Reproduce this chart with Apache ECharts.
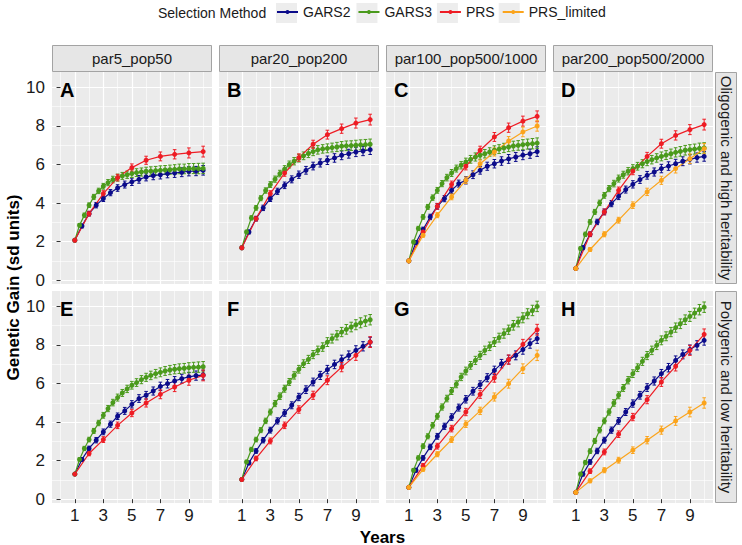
<!DOCTYPE html>
<html><head><meta charset="utf-8">
<script src="https://cdn.jsdelivr.net/npm/echarts@6/dist/echarts.min.js"></script>
<style>html,body{margin:0;padding:0;background:#fff}#c{width:742px;height:545px}</style>
</head><body><div id="c"></div>
<script>
// ---------- data ----------
const methods = ['GARS2', 'GARS3', 'PRS', 'PRS_limited'];
const panelLetters = ['A', 'B', 'C', 'D', 'E', 'F', 'G', 'H'];
const colLabels = ['par5_pop50', 'par20_pop200', 'par100_pop500/1000', 'par200_pop500/2000'];
const rowLabels = ['Oligogenic and high heritability', 'Polygenic and low heritability'];
const xTickLabels = [1, 3, 5, 7, 9];
const xMinorTicks = [0, 2, 4, 6, 8, 10];
const yTickLabels = [0, 2, 4, 6, 8, 10];
const yMinorTicks = [1, 3, 5, 7, 9];

const yearsGARS2 = [1, 1.5, 2, 2.5, 3, 3.5, 4, 4.5, 5, 5.5, 6, 6.5, 7, 7.5, 8, 8.5, 9, 9.5, 10];
const yearsGARS3 = [1, 1.33, 1.67, 2, 2.33, 2.67, 3, 3.33, 3.67, 4, 4.33, 4.67, 5, 5.33, 5.67, 6, 6.33, 6.67, 7, 7.33, 7.67, 8, 8.33, 8.67, 9, 9.33, 9.67, 10];
const yearsPRS = [1, 2, 3, 4, 5, 6, 7, 8, 9, 10];

const errGARS2 = [0, 0.1, 0.12, 0.14, 0.15, 0.16, 0.17, 0.18, 0.19, 0.2, 0.2, 0.21, 0.22, 0.22, 0.23, 0.23, 0.24, 0.24, 0.25];
const errGARS3 = [0, 0.09, 0.11, 0.12, 0.13, 0.14, 0.15, 0.16, 0.17, 0.18, 0.18, 0.19, 0.2, 0.2, 0.21, 0.21, 0.22, 0.22, 0.23, 0.23, 0.24, 0.24, 0.25, 0.25, 0.26, 0.26, 0.27, 0.27];
const errPRS = [0, 0.12, 0.15, 0.17, 0.19, 0.21, 0.23, 0.24, 0.26, 0.28];
const errPRSlim = [0, 0.1, 0.13, 0.15, 0.17, 0.19, 0.21, 0.23, 0.25, 0.27];

const A_GARS2 = [2.07, 2.81, 3.45, 3.89, 4.23, 4.54, 4.78, 4.96, 5.10, 5.23, 5.35, 5.42, 5.47, 5.53, 5.56, 5.60, 5.65, 5.66, 5.70];
const A_GARS3 = [2.07, 2.85, 3.37, 3.89, 4.32, 4.63, 4.87, 5.06, 5.22, 5.32, 5.41, 5.47, 5.53, 5.58, 5.61, 5.65, 5.66, 5.68, 5.70, 5.72, 5.73, 5.75, 5.77, 5.77, 5.79, 5.79, 5.79, 5.80];
const A_PRS = [2.07, 3.45, 4.49, 5.32, 5.84, 6.22, 6.42, 6.53, 6.60, 6.67];

const B_GARS2 = [1.68, 2.50, 3.19, 3.75, 4.23, 4.61, 4.92, 5.23, 5.47, 5.70, 5.92, 6.08, 6.22, 6.34, 6.48, 6.56, 6.65, 6.70, 6.77];
const B_GARS3 = [1.68, 2.50, 3.23, 3.75, 4.25, 4.65, 4.96, 5.24, 5.53, 5.76, 6.00, 6.17, 6.33, 6.45, 6.57, 6.67, 6.76, 6.81, 6.84, 6.88, 6.91, 6.95, 6.97, 6.98, 7.00, 7.02, 7.03, 7.05];
const B_PRS = [1.68, 3.19, 4.49, 5.56, 6.36, 7.05, 7.55, 7.86, 8.15, 8.33];

const C_GARS2 = [1.0, 1.95, 2.63, 3.28, 3.83, 4.23, 4.66, 5.01, 5.18, 5.47, 5.70, 5.91, 6.04, 6.18, 6.29, 6.39, 6.49, 6.56, 6.67];
const C_GARS3 = [1.0, 1.98, 2.68, 3.28, 3.80, 4.28, 4.66, 5.01, 5.32, 5.56, 5.79, 5.96, 6.13, 6.27, 6.39, 6.48, 6.56, 6.65, 6.74, 6.80, 6.86, 6.91, 6.96, 6.99, 7.03, 7.06, 7.08, 7.11];
const C_PRS = [1.0, 2.50, 3.83, 4.97, 5.91, 6.74, 7.43, 7.91, 8.25, 8.50];
const C_PRS_limited = [1.0, 2.33, 3.37, 4.32, 5.18, 6.04, 6.65, 7.22, 7.69, 8.00];

const D_GARS2 = [0.61, 1.68, 2.38, 3.02, 3.54, 3.97, 4.35, 4.70, 4.97, 5.22, 5.44, 5.61, 5.79, 5.92, 6.04, 6.17, 6.27, 6.36, 6.42];
const D_GARS3 = [0.61, 1.64, 2.38, 3.02, 3.54, 4.01, 4.40, 4.75, 5.01, 5.27, 5.47, 5.65, 5.79, 5.91, 6.04, 6.15, 6.25, 6.34, 6.42, 6.49, 6.56, 6.63, 6.68, 6.74, 6.77, 6.80, 6.84, 6.86];
const D_PRS = [0.61, 2.38, 3.54, 4.66, 5.66, 6.42, 7.08, 7.51, 7.81, 8.07];
const D_PRS_limited = [0.61, 1.59, 2.38, 3.11, 3.89, 4.58, 5.18, 5.79, 6.30, 6.82];

const E_GARS2 = [1.30, 2.06, 2.63, 3.06, 3.49, 3.89, 4.30, 4.58, 4.92, 5.22, 5.39, 5.61, 5.85, 5.99, 6.13, 6.25, 6.34, 6.41, 6.44];
const E_GARS3 = [1.30, 2.06, 2.63, 3.09, 3.54, 3.95, 4.35, 4.70, 5.01, 5.27, 5.51, 5.72, 5.91, 6.05, 6.20, 6.32, 6.42, 6.51, 6.58, 6.65, 6.70, 6.74, 6.77, 6.79, 6.82, 6.84, 6.85, 6.87];
const E_PRS = [1.30, 2.37, 3.09, 3.83, 4.47, 4.99, 5.44, 5.82, 6.17, 6.42];

const F_GARS2 = [1.02, 1.88, 2.50, 3.06, 3.58, 4.06, 4.47, 4.87, 5.30, 5.68, 6.08, 6.42, 6.72, 6.99, 7.24, 7.46, 7.72, 7.93, 8.15];
const F_GARS3 = [1.02, 1.93, 2.58, 3.09, 3.58, 4.06, 4.52, 4.96, 5.34, 5.73, 6.08, 6.42, 6.74, 7.03, 7.25, 7.50, 7.72, 7.89, 8.15, 8.33, 8.50, 8.67, 8.81, 8.93, 9.05, 9.15, 9.24, 9.31];
const F_PRS = [1.02, 2.11, 3.02, 3.83, 4.65, 5.39, 6.17, 6.85, 7.46, 8.15];

const G_GARS2 = [0.61, 1.50, 2.14, 2.71, 3.26, 3.78, 4.26, 4.75, 5.18, 5.60, 5.94, 6.30, 6.68, 7.03, 7.24, 7.46, 7.76, 8.07, 8.33];
const G_GARS3 = [0.61, 1.50, 2.14, 2.75, 3.26, 3.83, 4.30, 4.78, 5.22, 5.61, 5.96, 6.34, 6.65, 6.94, 7.20, 7.46, 7.72, 7.93, 8.15, 8.38, 8.59, 8.79, 9.02, 9.19, 9.41, 9.62, 9.79, 10.0];
const G_PRS = [0.61, 1.73, 2.75, 3.66, 4.52, 5.44, 6.30, 7.24, 8.03, 8.79];
const G_PRS_limited = [0.61, 1.55, 2.33, 3.09, 3.89, 4.58, 5.30, 5.99, 6.77, 7.46];

const H_GARS2 = [0.35, 1.30, 1.93, 2.50, 3.06, 3.58, 4.06, 4.52, 4.96, 5.39, 5.79, 6.13, 6.51, 6.82, 7.20, 7.51, 7.76, 7.98, 8.24];
const H_GARS3 = [0.35, 1.30, 1.90, 2.49, 3.02, 3.58, 4.06, 4.52, 4.99, 5.39, 5.77, 6.17, 6.51, 6.82, 7.15, 7.45, 7.72, 7.98, 8.24, 8.45, 8.67, 8.90, 9.10, 9.31, 9.48, 9.65, 9.83, 9.96];
const H_PRS = [0.35, 1.45, 2.45, 3.37, 4.26, 5.16, 6.08, 6.89, 7.72, 8.55];
const H_PRS_limited = [0.35, 0.95, 1.50, 2.02, 2.54, 3.06, 3.58, 4.06, 4.52, 4.99];

// ---------- build ----------
const panelData = [
  { GARS2: A_GARS2, GARS3: A_GARS3, PRS: A_PRS },
  { GARS2: B_GARS2, GARS3: B_GARS3, PRS: B_PRS },
  { GARS2: C_GARS2, GARS3: C_GARS3, PRS: C_PRS, PRS_limited: C_PRS_limited },
  { GARS2: D_GARS2, GARS3: D_GARS3, PRS: D_PRS, PRS_limited: D_PRS_limited },
  { GARS2: E_GARS2, GARS3: E_GARS3, PRS: E_PRS },
  { GARS2: F_GARS2, GARS3: F_GARS3, PRS: F_PRS },
  { GARS2: G_GARS2, GARS3: G_GARS3, PRS: G_PRS, PRS_limited: G_PRS_limited },
  { GARS2: H_GARS2, GARS3: H_GARS3, PRS: H_PRS, PRS_limited: H_PRS_limited }
];
const yearsFor = { GARS2: yearsGARS2, GARS3: yearsGARS3, PRS: yearsPRS, PRS_limited: yearsPRS };
const errFor = { GARS2: errGARS2, GARS3: errGARS3, PRS: errPRS, PRS_limited: errPRSlim };
const colors = { GARS2: '#0B0B8A', GARS3: '#4A9A1C', PRS: '#EE1C24', PRS_limited: '#FBA41C' };

const FONT = 'Liberation Sans, Arial, Helvetica, sans-serif';
const COL_LEFT = [52, 219, 386, 553], PW = 160;
const ROW_TOP = [72, 291], PH = 212;
const X_MIN = -0.6, X_MAX = 10.62, Y_MIN = -0.2, Y_MAX = 10.8;

function renderErr(params, api) {
  const x = api.value(0), lo = api.value(1), hi = api.value(2);
  if (hi - lo <= 0) return null;
  const p1 = api.coord([x, hi]), p2 = api.coord([x, lo]);
  const w = 1.8;
  const st = { stroke: api.visual('color'), lineWidth: 1 };
  return { type: 'group', children: [
    { type: 'line', shape: { x1: p1[0], y1: p1[1], x2: p2[0], y2: p2[1] }, style: st },
    { type: 'line', shape: { x1: p1[0] - w, y1: p1[1], x2: p1[0] + w, y2: p1[1] }, style: st },
    { type: 'line', shape: { x1: p2[0] - w, y1: p2[1], x2: p2[0] + w, y2: p2[1] }, style: st }
  ]};
}

const grids = [], xAxes = [], yAxes = [], series = [], graphics = [];
for (let p = 0; p < 8; p++) {
  const r = p >= 4 ? 1 : 0, c = p % 4;
  grids.push({ left: COL_LEFT[c], top: ROW_TOP[r], width: PW, height: PH, show: true,
    backgroundColor: '#EBEBEB', borderWidth: 0 });
  xAxes.push({ type: 'value', gridIndex: p, min: X_MIN, max: X_MAX, position: 'bottom',
    axisLine: { show: false },
    axisTick: { show: r === 1, customValues: xTickLabels, length: 4, lineStyle: { color: '#333', width: 1 } },
    axisLabel: { show: r === 1, customValues: xTickLabels, fontSize: 17, color: '#1a1a1a', margin: 4, fontFamily: FONT },
    splitLine: { show: true, lineStyle: { color: '#FFFFFF', width: 1.2 } } });
  xAxes.push({ type: 'value', gridIndex: p, min: X_MIN, max: X_MAX, position: 'top',
    axisLine: { show: false }, axisTick: { show: false, customValues: xMinorTicks }, axisLabel: { show: false },
    splitLine: { show: true, lineStyle: { color: '#FFFFFF', width: 0.6 } } });
  yAxes.push({ type: 'value', gridIndex: p, min: Y_MIN, max: Y_MAX, position: 'left',
    axisLine: { show: false },
    axisTick: { show: c === 0, customValues: yTickLabels, length: 4, lineStyle: { color: '#333', width: 1 } },
    axisLabel: { show: c === 0, customValues: yTickLabels, fontSize: 17, color: '#1a1a1a', margin: 7, fontFamily: FONT },
    splitLine: { show: true, lineStyle: { color: '#FFFFFF', width: 1.2 } } });
  yAxes.push({ type: 'value', gridIndex: p, min: Y_MIN, max: Y_MAX, position: 'right',
    axisLine: { show: false }, axisTick: { show: false, customValues: yMinorTicks }, axisLabel: { show: false },
    splitLine: { show: true, lineStyle: { color: '#FFFFFF', width: 0.6 } } });

  methods.forEach(function (m) {
    const vals = panelData[p][m];
    if (!vals) return;
    const yrs = yearsFor[m], err = errFor[m];
    series.push({ type: 'line', name: m, xAxisIndex: 2 * p, yAxisIndex: 2 * p,
      data: yrs.map(function (x, i) { return [x, vals[i]]; }),
      symbol: 'circle', symbolSize: 5, showSymbol: true,
      lineStyle: { width: 1.2, color: colors[m] }, itemStyle: { color: colors[m] },
      emphasis: { disabled: true }, animation: false, clip: false });
    series.push({ type: 'custom', name: m + ' error', xAxisIndex: 2 * p, yAxisIndex: 2 * p,
      renderItem: renderErr, encode: { x: 0, y: [1, 2] },
      data: yrs.map(function (x, i) { return [x, vals[i] - err[i], vals[i] + err[i]]; }),
      itemStyle: { color: colors[m] }, animation: false, silent: true });
  });

  graphics.push({ type: 'text', x: COL_LEFT[c] + 8, y: ROW_TOP[r] + 17.5, z: 100,
    style: { text: panelLetters[p], fontSize: 20, fontWeight: 'bold', fontFamily: FONT, fill: '#000',
      align: 'left', verticalAlign: 'middle' } });
}

// strips
for (let c = 0; c < 4; c++) {
  graphics.push({ type: 'rect', shape: { x: COL_LEFT[c] + 0.5, y: 45.5, width: PW - 1, height: 26 },
    style: { fill: '#E6E6E6', stroke: '#A3A3A3', lineWidth: 1 } });
  graphics.push({ type: 'text', x: COL_LEFT[c] + PW / 2, y: 58.5,
    style: { text: colLabels[c], fontSize: 15, fontFamily: FONT, fill: '#1a1a1a', align: 'center', verticalAlign: 'middle' } });
}
for (let r = 0; r < 2; r++) {
  graphics.push({ type: 'rect', shape: { x: 715.5, y: ROW_TOP[r] + 0.5, width: 21, height: PH - 1 },
    style: { fill: '#E6E6E6', stroke: '#A3A3A3', lineWidth: 1 } });
  graphics.push({ type: 'text', x: 726, y: ROW_TOP[r] + PH / 2, rotation: -Math.PI / 2,
    style: { text: rowLabels[r], fontSize: 15, fontFamily: FONT, fill: '#1a1a1a', align: 'center', verticalAlign: 'middle' } });
}
// axis titles
graphics.push({ type: 'text', x: 13, y: 287.5, rotation: Math.PI / 2,
  style: { text: 'Genetic Gain (sd units)', fontSize: 17, fontWeight: 'bold', fontFamily: FONT, fill: '#000', align: 'center', verticalAlign: 'middle' } });
graphics.push({ type: 'text', x: 382.5, y: 537,
  style: { text: 'Years', fontSize: 17, fontWeight: 'bold', fontFamily: FONT, fill: '#000', align: 'center', verticalAlign: 'middle' } });
// legend title + key backgrounds
graphics.push({ type: 'text', x: 158, y: 13,
  style: { text: 'Selection Method', fontSize: 14, fontFamily: FONT, fill: '#1a1a1a', align: 'left', verticalAlign: 'middle' } });
const LEG_LEFT = 276, KEY_W = 21, LEG_GAP = 7;
const ctx = document.createElement('canvas').getContext('2d');
ctx.font = '14px ' + FONT;
let kx = LEG_LEFT;
methods.forEach(function (m) {
  graphics.push({ type: 'rect', z: 0, shape: { x: kx, y: 3, width: KEY_W, height: 20 }, style: { fill: '#EDEDED' } });
  kx += KEY_W + 5 + ctx.measureText(m).width + LEG_GAP;
});

const chart = echarts.init(document.getElementById('c'), null, { renderer: 'svg', width: 742, height: 545 });
chart.setOption({
  animation: false,
  backgroundColor: '#FFFFFF',
  legend: { data: methods, left: LEG_LEFT, top: 5, padding: 0, itemWidth: KEY_W, itemHeight: 5, itemGap: LEG_GAP,
    textStyle: { fontSize: 14, fontFamily: FONT, color: '#1a1a1a' } },
  grid: grids, xAxis: xAxes, yAxis: yAxes, series: series, graphic: graphics
});
</script></body></html>
